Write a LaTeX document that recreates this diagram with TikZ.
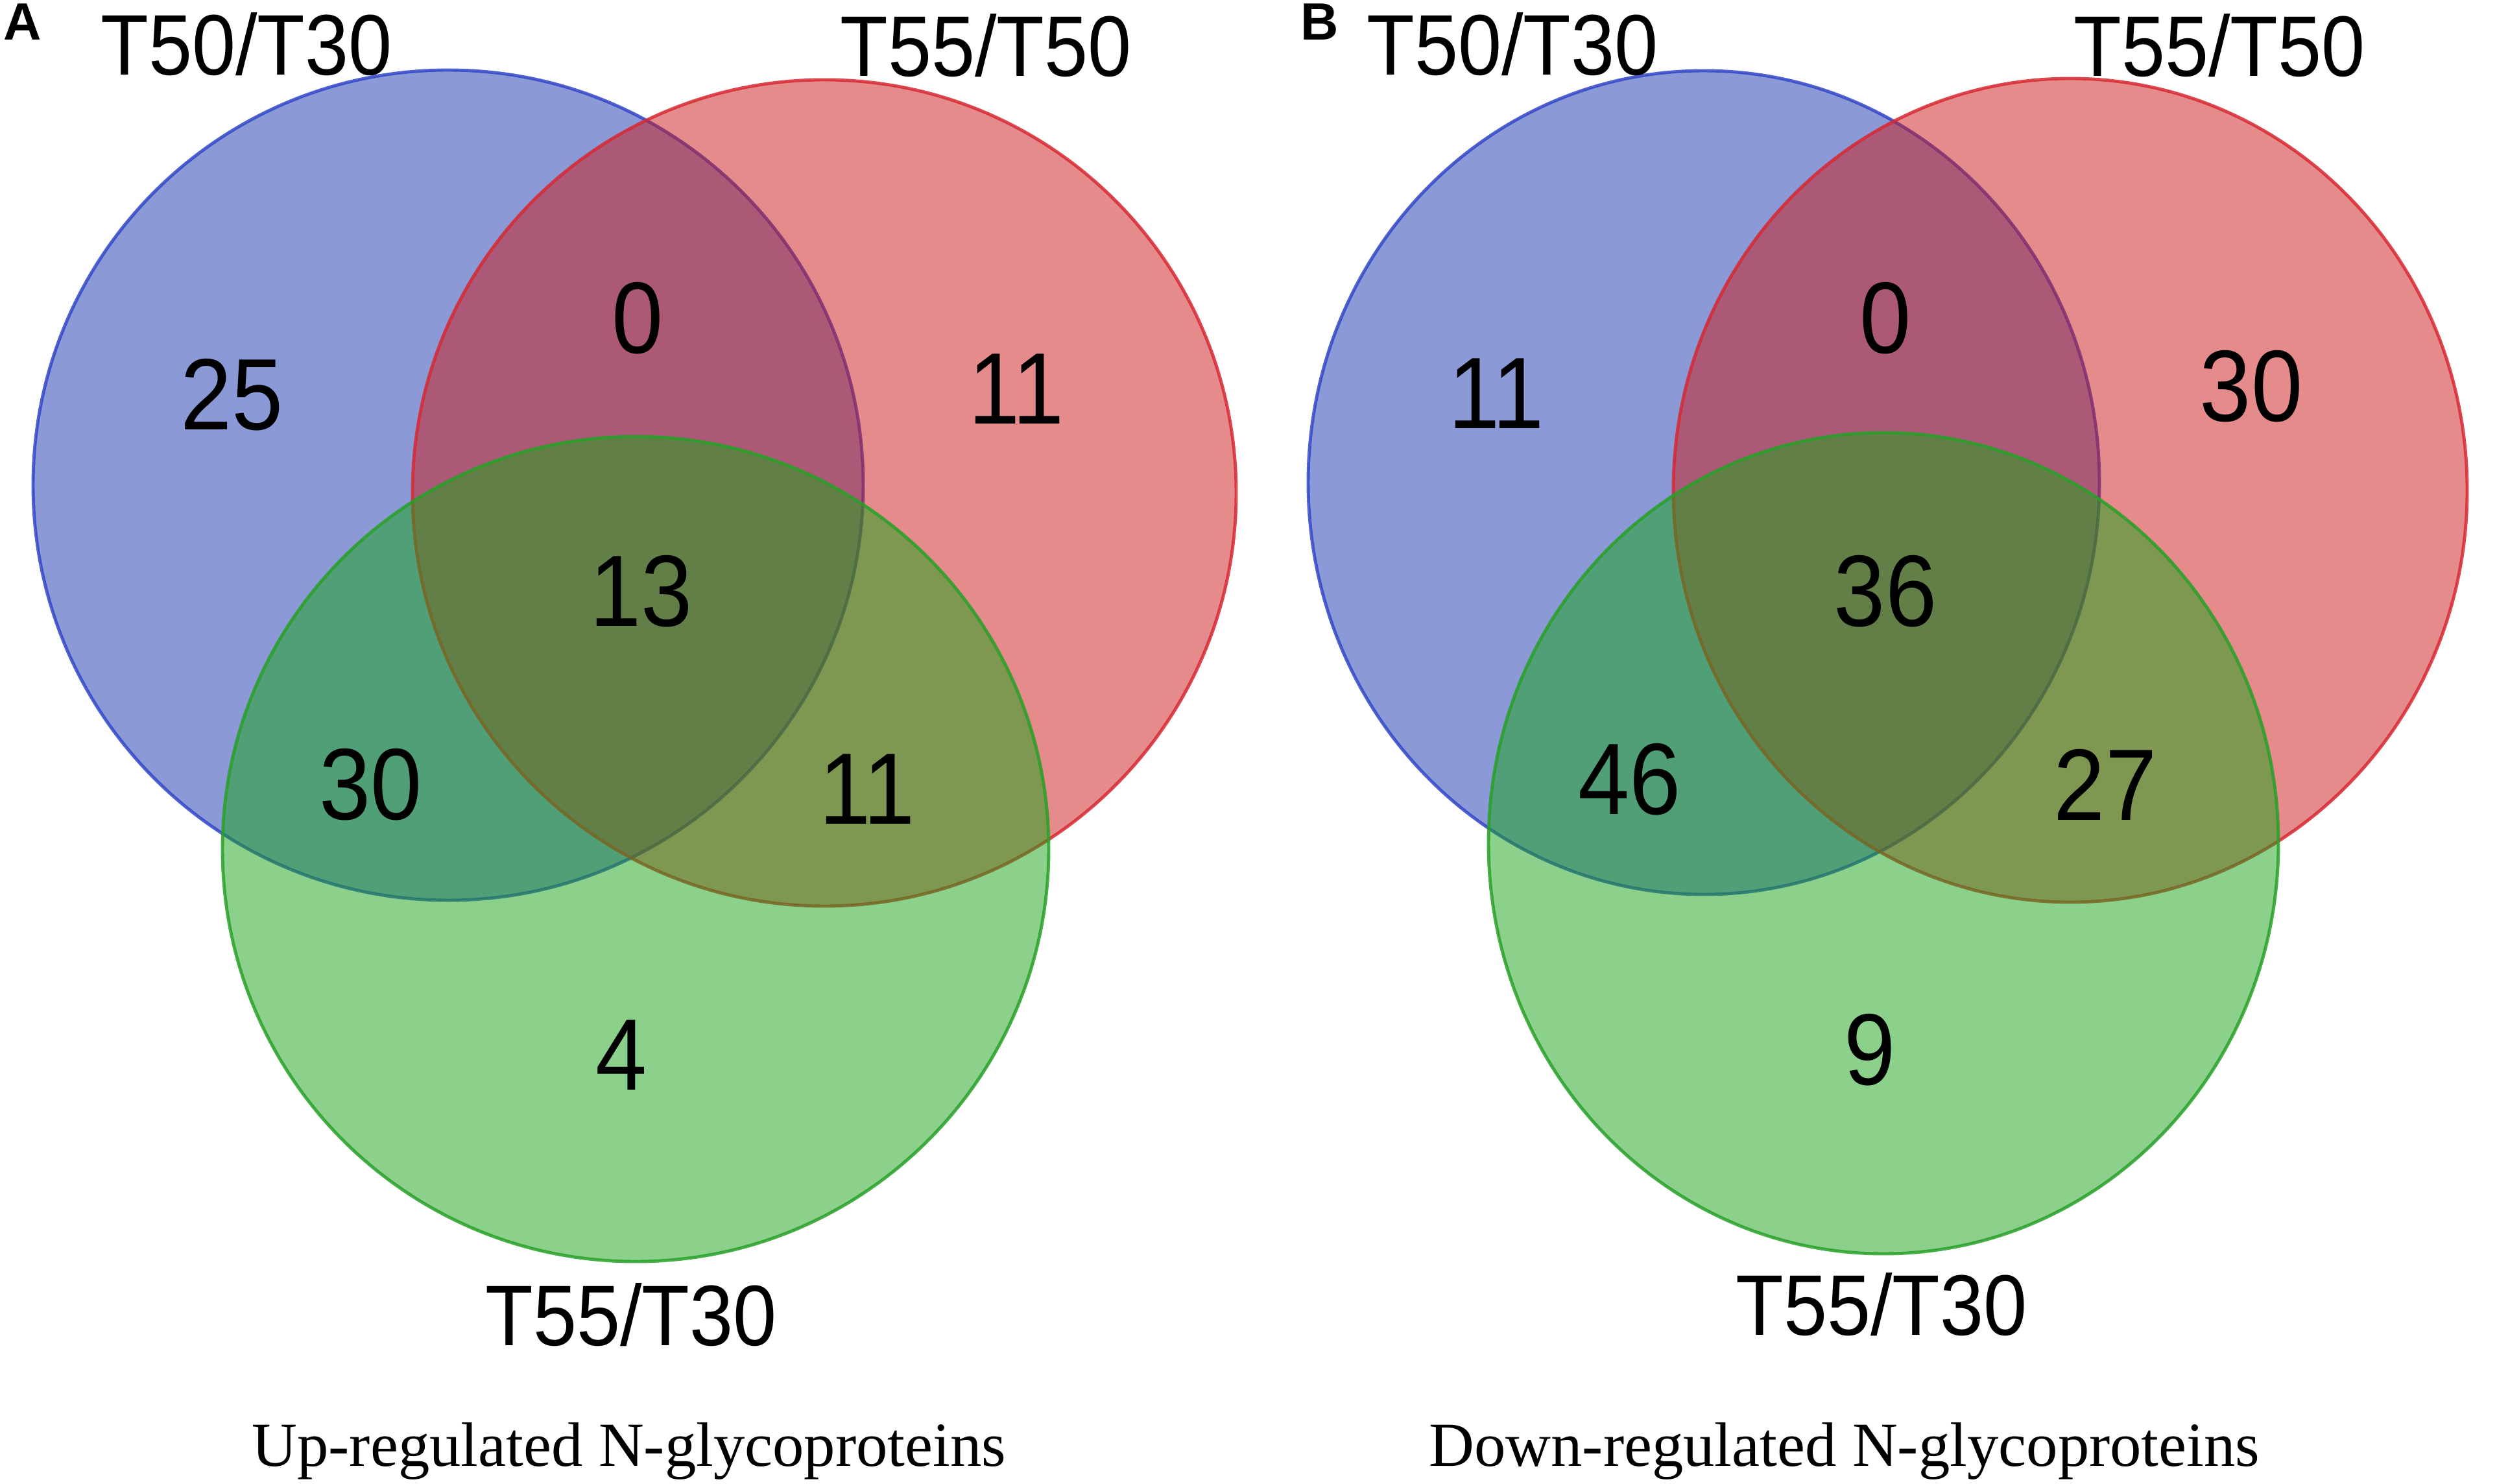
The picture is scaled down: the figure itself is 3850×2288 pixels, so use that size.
\documentclass[tikz,border=0pt]{standalone}
\usepackage{fontspec}
\setmainfont{Liberation Sans}
\newfontfamily\capfont{Liberation Serif}
\definecolor{vblue}{RGB}{25,55,175}
\definecolor{vred}{RGB}{205,25,25}
\definecolor{vgreen}{RGB}{25,165,25}
\definecolor{eblue}{RGB}{50,70,200}
\definecolor{ered}{RGB}{215,40,50}
\definecolor{egreen}{RGB}{40,160,40}
\tikzset{
  setlbl/.style={inner sep=0pt, font=\fontsize{37.7}{40}\selectfont, anchor=base},
  num/.style={inner sep=0pt, font=\fontsize{44.5}{48}\selectfont},
  captxt/.style={inner sep=0pt, font=\capfont\fontsize{27.5}{30}\selectfont, anchor=base},
  panel/.style={inner sep=0pt, font=\bfseries\fontsize{23}{25}\selectfont},
  setb/.style={fill=vblue, draw=eblue, fill opacity=0.5, draw opacity=0.85, line width=1.4pt},
  setr/.style={fill=vred, draw=ered, fill opacity=0.5, draw opacity=0.85, line width=1.4pt},
  setg/.style={fill=vgreen, draw=egreen, fill opacity=0.5, draw opacity=0.85, line width=1.4pt}
}
\newcommand{\sq}[1]{\scalebox{0.91}[1]{#1}}
\begin{document}
\begin{tikzpicture}[x=0.01cm,y=-0.01cm]
\useasboundingbox (0,0) rectangle (3850,2288);
\fill[white] (0,0) rectangle (3850,2288);
% Panel A circles
\draw[setb] (691,748) ellipse [x radius=640, y radius=640];
\draw[setr] (1271,760) ellipse [x radius=635, y radius=637];
\draw[setg] (980,1309) ellipse [x radius=637, y radius=636];
% Panel B ellipses
\draw[setb] (2627,744) ellipse [x radius=610, y radius=635];
\draw[setr] (3192,756) ellipse [x radius=612, y radius=635];
\draw[setg] (2904,1300) ellipse [x radius=609, y radius=633];
% Panel A labels
\node[panel] (pA) at (35,34) {A};
\node[setlbl] (aT1) at (380,116) {\sq{T50/T30}};
\node[setlbl] (aT2) at (1520,118) {\sq{T55/T50}};
\node[setlbl] (aT3) at (973,2074) {\sq{T55/T30}};
\node[num] (a25) at (358,609) {\sq{25}};
\node[num] (a0) at (983,491) {\sq{0}};
\node[num] (a11a) at (1567,600) {\sq{11}};
\node[num] (a13) at (989,912) {\sq{13}};
\node[num] (a30) at (572,1210) {\sq{30}};
\node[num] (a11b) at (1337,1217) {\sq{11}};
\node[num] (a4) at (958,1627) {\sq{4}};
\node[captxt] (capA) at (970,2260) {Up-regulated N-glycoproteins};
% Panel B labels
\node[panel] (pB) at (2035,34) {B};
\node[setlbl] (bT1) at (2332,116) {\sq{T50/T30}};
\node[setlbl] (bT2) at (3422,118) {\sq{T55/T50}};
\node[setlbl] (bT3) at (2901,2058) {\sq{T55/T30}};
\node[num] (b11) at (2307,607) {\sq{11}};
\node[num] (b0) at (2907,491) {\sq{0}};
\node[num] (b30) at (3471,596) {\sq{30}};
\node[num] (b36) at (2907,912) {\sq{36}};
\node[num] (b46) at (2513,1202) {\sq{46}};
\node[num] (b27) at (3246,1210) {\sq{27}};
\node[num] (b9) at (2883,1619) {\sq{9}};
\node[captxt] (capB) at (2844,2260) {Down-regulated N-glycoproteins};
\end{tikzpicture}
\end{document}
